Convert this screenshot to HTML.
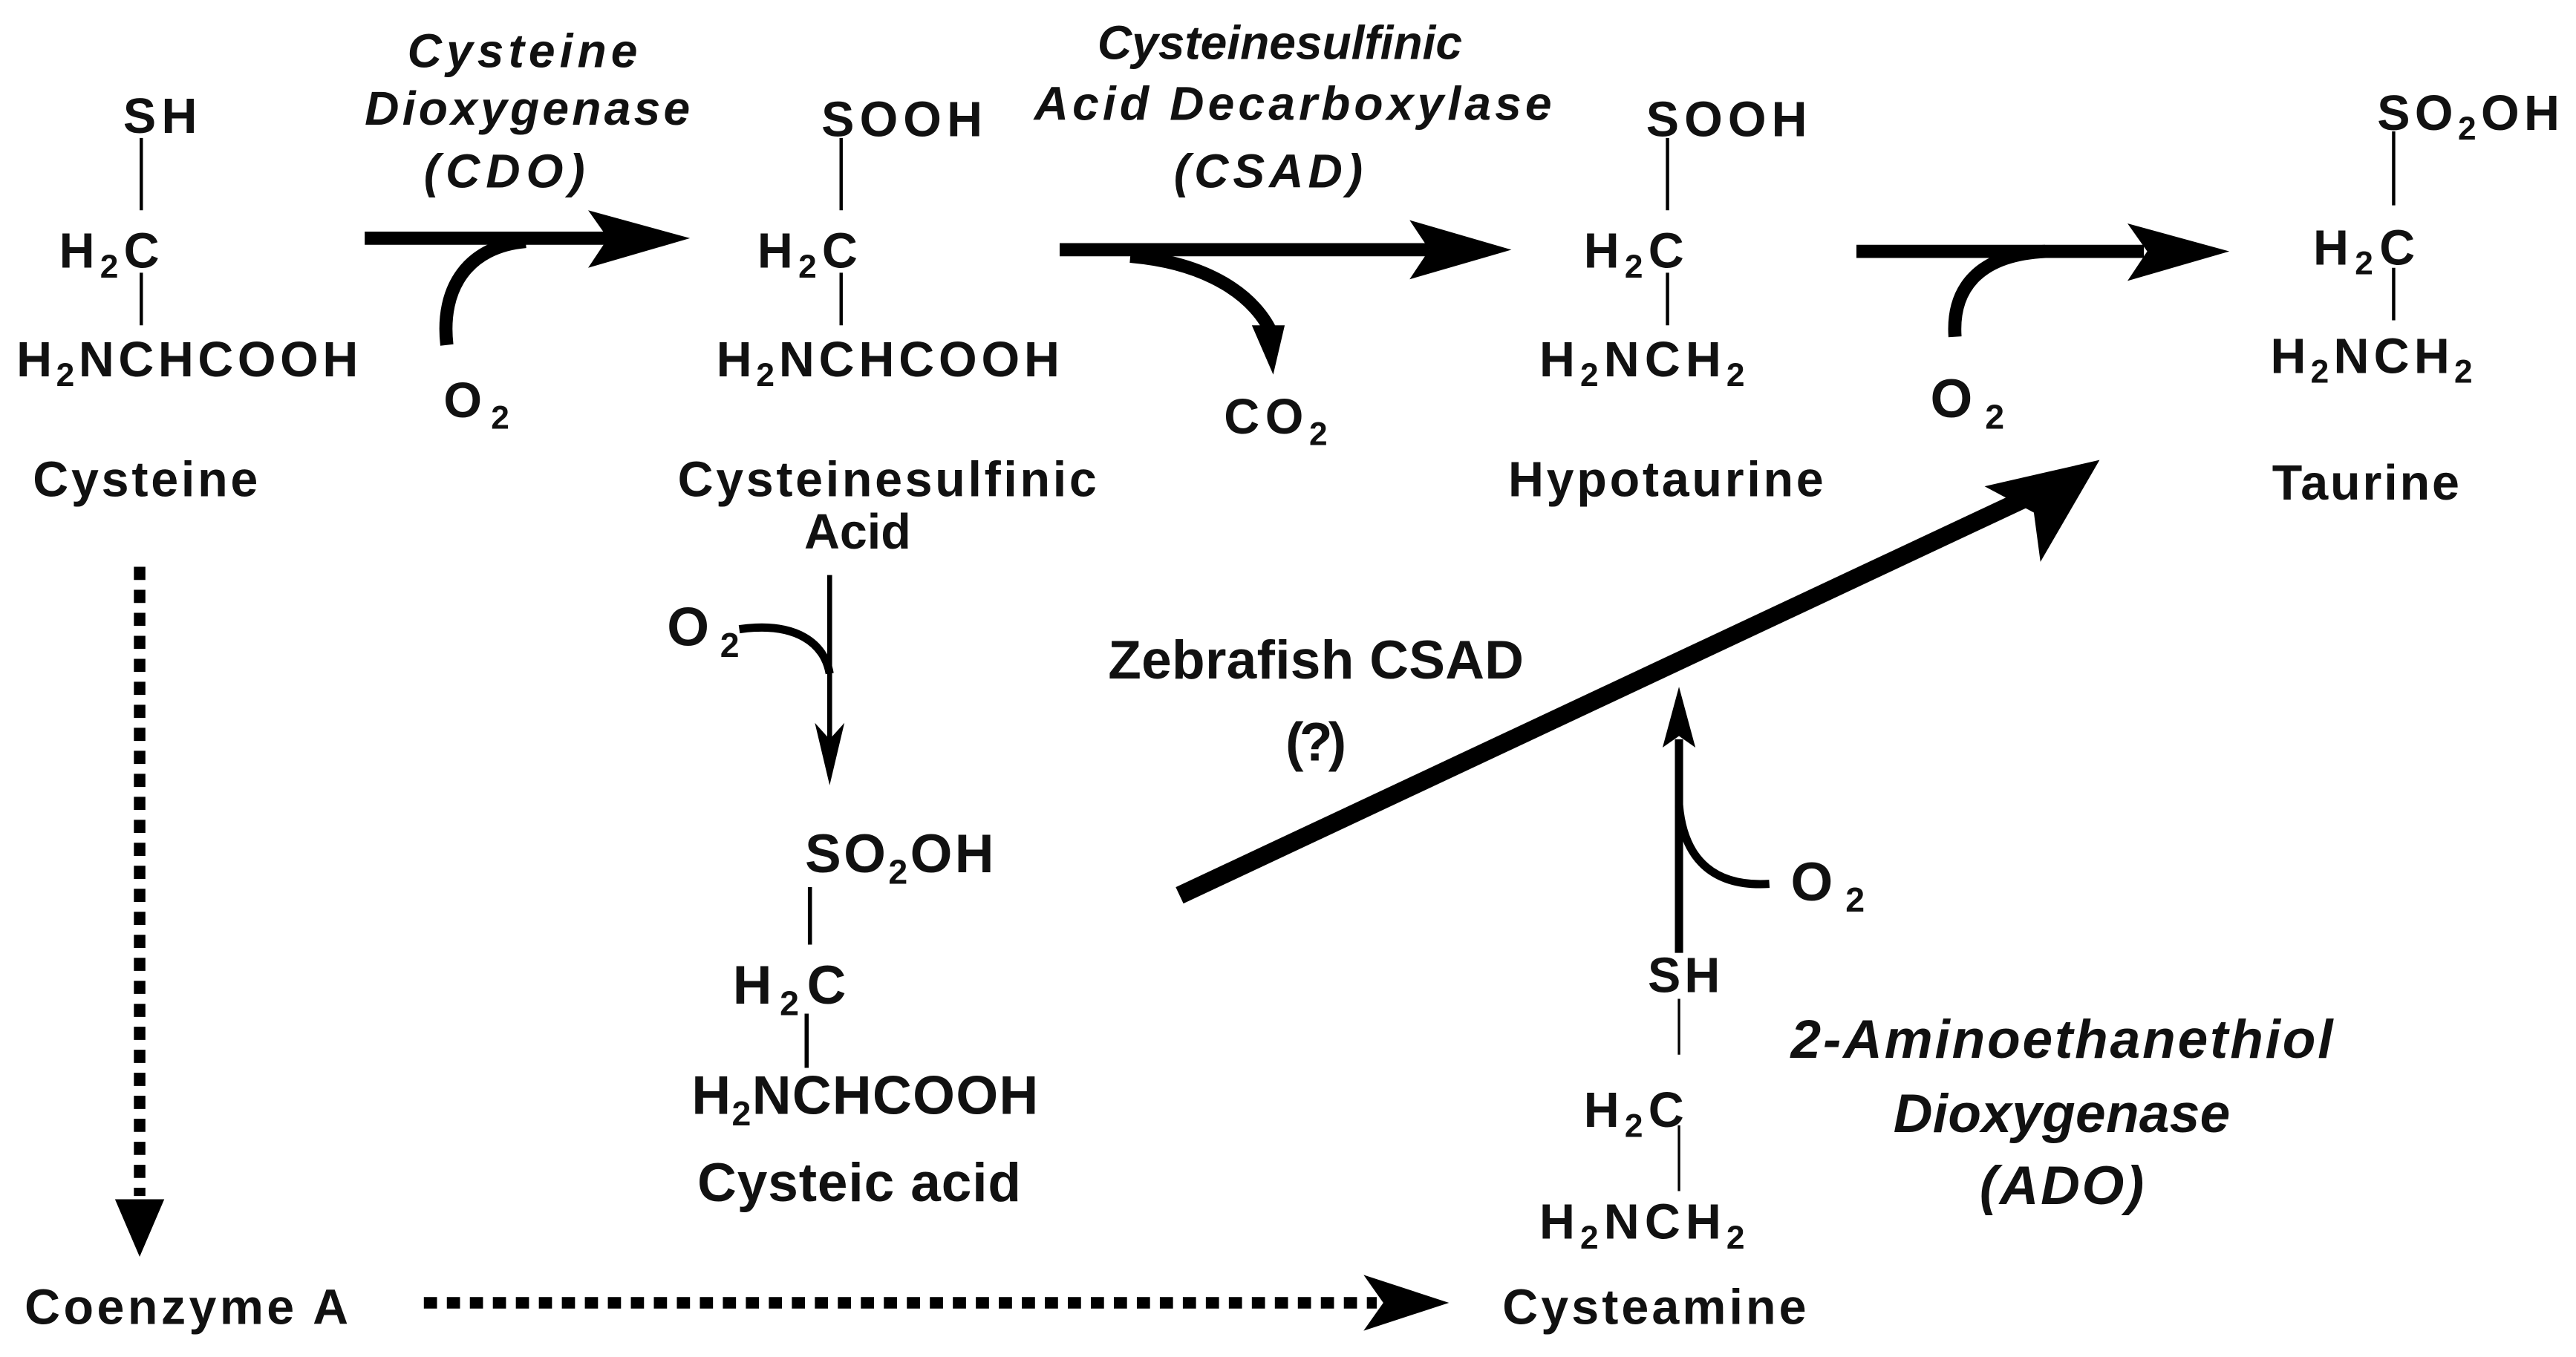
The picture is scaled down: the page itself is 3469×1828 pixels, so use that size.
<!DOCTYPE html>
<html><head><meta charset="utf-8"><style>
html,body{margin:0;padding:0;background:#fff;}
svg{display:block;}
text{font-family:"Liberation Sans",Arial,sans-serif;fill:#111;}
.n{font-size:30px;font-weight:bold;}
.i{font-size:29px;font-style:italic;font-weight:bold;}
.b{font-size:33px;font-weight:bold;}
.bi{font-size:33px;font-style:italic;font-weight:bold;}
</style></head><body>
<svg width="3469" height="1828" viewBox="0 0 1568 826" preserveAspectRatio="none" xmlns="http://www.w3.org/2000/svg">
<g stroke="#000" fill="none">
<line x1="86" y1="84" x2="86" y2="128" stroke-width="2"/>
<line x1="86" y1="166" x2="86" y2="198" stroke-width="2"/>
<line x1="512" y1="84" x2="512" y2="128" stroke-width="2"/>
<line x1="512" y1="166" x2="512" y2="198" stroke-width="2"/>
<line x1="1015" y1="84" x2="1015" y2="128" stroke-width="2"/>
<line x1="1015" y1="166" x2="1015" y2="198" stroke-width="2"/>
<line x1="1457" y1="80" x2="1457" y2="125" stroke-width="2"/>
<line x1="1457" y1="163" x2="1457" y2="195" stroke-width="2"/>
<line x1="493" y1="540" x2="493" y2="575" stroke-width="2.5"/>
<line x1="491" y1="617" x2="491" y2="650" stroke-width="2.5"/>
<line x1="1022" y1="608" x2="1022" y2="642" stroke-width="1.5"/>
<line x1="1022" y1="685" x2="1022" y2="725" stroke-width="1.5"/>
<line x1="222" y1="145" x2="370" y2="145" stroke-width="8"/>
<path d="M272 210 C268 175 285 150 320 147" stroke-width="8"/>
<line x1="645" y1="152" x2="870" y2="152" stroke-width="8"/>
<path d="M688 156 C735 160 765 180 775 205" stroke-width="8"/>
<line x1="1130" y1="153" x2="1305" y2="153" stroke-width="8"/>
<path d="M1190 205 C1188 175 1205 155 1245 153" stroke-width="8"/>
<line x1="505" y1="350" x2="505" y2="455" stroke-width="3"/>
<path d="M450 383 C485 378 502 392 505 410" stroke-width="5"/>
<line x1="718" y1="545" x2="1240" y2="300" stroke-width="11"/>
<line x1="1022" y1="580" x2="1022" y2="450" stroke-width="5"/>
<path d="M1077 538 C1045 540 1025 525 1022 490" stroke-width="5"/>
<line x1="85" y1="345" x2="85" y2="728" stroke-width="7" stroke-dasharray="8 6"/>
<line x1="258" y1="793" x2="838" y2="793" stroke-width="7" stroke-dasharray="8 6"/>
</g>
<g fill="#000">
<polygon points="358,128 420,145 358,163 370,145"/>
<polygon points="858,134 920,152 858,170 870,152"/>
<polygon points="1295,136 1357,153 1295,171 1307,153"/>
<polygon points="762,198 782,198 775,228"/>
<polygon points="496,440 505,478 514,440 505,450"/>
<polygon points="1208,296 1278,280 1242,342 1238,312"/>
<polygon points="1012,455 1022,418 1032,455 1022,448"/>
<polygon points="70,730 85,765 100,730"/>
<polygon points="830,776 882,793 830,810 842,793"/>
</g>

<text class="n" x="75" y="81" textLength="45">SH</text>
<text class="n" x="36" y="163" textLength="61">H<tspan font-size="20" dy="6">2</tspan><tspan dy="-6">C</tspan></text>
<text class="n" x="10" y="229" textLength="208">H<tspan font-size="20" dy="6">2</tspan><tspan dy="-6">NCHCOOH</tspan></text>
<text class="n" x="20" y="302" textLength="137">Cysteine</text>
<text class="i" x="318" y="41" text-anchor="middle" textLength="140">Cysteine</text>
<text class="i" x="321" y="76" text-anchor="middle" textLength="198">Dioxygenase</text>
<text class="i" x="307" y="114" text-anchor="middle" textLength="98">(CDO)</text>
<text class="n" x="270" y="254" textLength="40">O<tspan font-size="20" dy="7">2</tspan></text>
<text class="n" x="500" y="83" textLength="98">SOOH</text>
<text class="n" x="461" y="163" textLength="61">H<tspan font-size="20" dy="6">2</tspan><tspan dy="-6">C</tspan></text>
<text class="n" x="436" y="229" textLength="209">H<tspan font-size="20" dy="6">2</tspan><tspan dy="-6">NCHCOOH</tspan></text>
<text class="n" x="540" y="302" text-anchor="middle" textLength="255">Cysteinesulfinic</text>
<text class="n" x="522" y="334" text-anchor="middle" textLength="65">Acid</text>
<text class="i" x="779" y="36" text-anchor="middle" textLength="222">Cysteinesulfinic</text>
<text class="i" x="787" y="73" text-anchor="middle" textLength="315">Acid Decarboxylase</text>
<text class="i" x="772" y="114" text-anchor="middle" textLength="115">(CSAD)</text>
<text class="n" x="745" y="264" textLength="63">CO<tspan font-size="20" dy="7">2</tspan></text>
<text class="n" x="1002" y="83" textLength="98">SOOH</text>
<text class="n" x="964" y="163" textLength="61">H<tspan font-size="20" dy="6">2</tspan><tspan dy="-6">C</tspan></text>
<text class="n" x="937" y="229" textLength="125">H<tspan font-size="20" dy="6">2</tspan><tspan dy="-6">NCH</tspan><tspan font-size="20" dy="6">2</tspan></text>
<text class="n" x="1014" y="302" text-anchor="middle" textLength="192">Hypotaurine</text>
<text class="b" x="1175" y="254" textLength="45">O<tspan font-size="21" dy="7">2</tspan></text>
<text class="n" x="1447" y="79" textLength="111">SO<tspan font-size="20" dy="6">2</tspan><tspan dy="-6">OH</tspan></text>
<text class="n" x="1408" y="161" textLength="62">H<tspan font-size="20" dy="6">2</tspan><tspan dy="-6">C</tspan></text>
<text class="n" x="1382" y="227" textLength="123">H<tspan font-size="20" dy="6">2</tspan><tspan dy="-6">NCH</tspan><tspan font-size="20" dy="6">2</tspan></text>
<text class="n" x="1440" y="304" text-anchor="middle" textLength="114">Taurine</text>
<text class="b" x="406" y="393" textLength="44">O<tspan font-size="21" dy="7">2</tspan></text>
<text class="b" x="490" y="531" textLength="115">SO<tspan font-size="21" dy="7">2</tspan><tspan dy="-7">OH</tspan></text>
<text class="b" x="446" y="611" textLength="69">H<tspan font-size="21" dy="7">2</tspan><tspan dy="-7">C</tspan></text>
<text class="b" x="421" y="678" textLength="211">H<tspan font-size="21" dy="7">2</tspan><tspan dy="-7">NCHCOOH</tspan></text>
<text class="b" x="523" y="731" text-anchor="middle" textLength="197">Cysteic acid</text>
<text class="b" x="801" y="413" text-anchor="middle" textLength="253">Zebrafish CSAD</text>
<text class="b" x="801" y="463" text-anchor="middle" textLength="37">(?)</text>
<text class="b" x="1090" y="548" textLength="45">O<tspan font-size="21" dy="7">2</tspan></text>
<text class="n" x="1003" y="604" textLength="44">SH</text>
<text class="n" x="964" y="686" textLength="61">H<tspan font-size="20" dy="6">2</tspan><tspan dy="-6">C</tspan></text>
<text class="n" x="937" y="754" textLength="125">H<tspan font-size="20" dy="6">2</tspan><tspan dy="-6">NCH</tspan><tspan font-size="20" dy="6">2</tspan></text>
<text class="n" x="1007" y="806" text-anchor="middle" textLength="185">Cysteamine</text>
<text class="bi" x="1255" y="644" text-anchor="middle" textLength="330">2-Aminoethanethiol</text>
<text class="bi" x="1255" y="689" text-anchor="middle" textLength="205">Dioxygenase</text>
<text class="bi" x="1255" y="733" text-anchor="middle" textLength="100">(ADO)</text>
<text class="n" x="15" y="806" textLength="197">Coenzyme A</text>
</svg>
</body></html>
